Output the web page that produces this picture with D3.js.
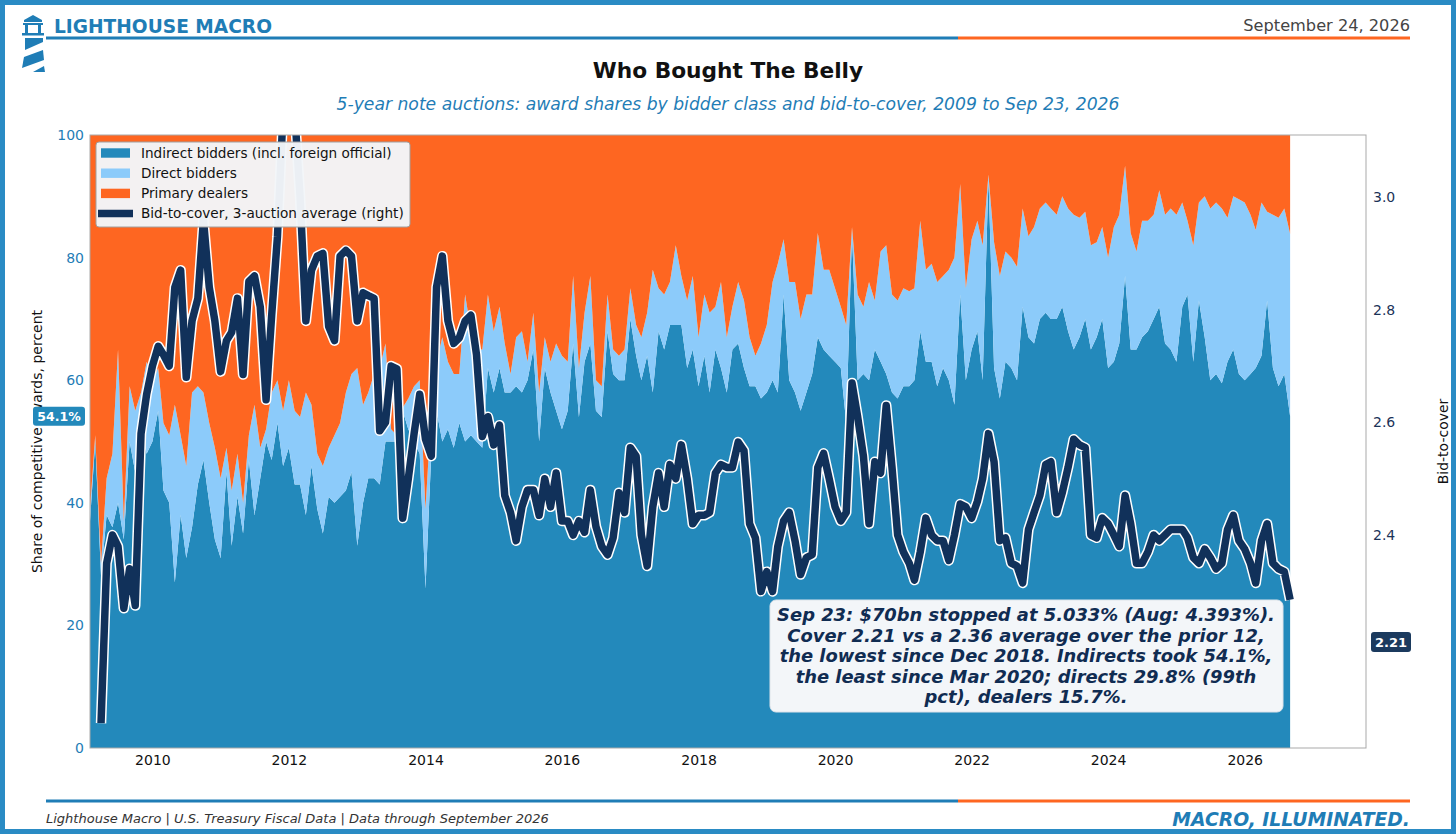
<!DOCTYPE html>
<html>
<head>
<meta charset="utf-8">
<script src="https://cdn.jsdelivr.net/npm/d3@7"></script>
<style>
  body { margin: 0; background: #fff; }
  svg { display: block; font-family: "DejaVu Sans", sans-serif; }
</style>
</head>
<body>
<svg id="chart" width="1456" height="834"></svg>
<script>
// Monthly 5-year note auctions, Feb 2009 to Sep 2026
const firstAuction = new Date(2009, 1, 1)
const lastAuction = new Date(2026, 8, 1)

// award share, percent of competitive awards
const indirectShare = [
  37, 50, 28, 38, 36, 40, 34, 50, 45, 52, 48,            // 2009 (Feb-Dec)
  50, 55, 42, 40, 27, 38, 31, 36, 43, 47, 40, 34,        // 2010
  31, 45, 33, 41, 35, 47, 38, 44, 50, 47, 53, 46,        // 2011
  49, 43, 43, 38, 46, 39, 35, 41, 40, 41, 42, 45,        // 2012
  33, 40, 44, 44, 43, 50, 50, 50, 55, 52, 50, 48,        // 2013
  26, 48, 55, 50, 52, 49, 53, 50, 51, 50, 49, 62,        // 2014
  58, 62, 58, 58, 59, 58, 60, 65, 50, 62, 58, 55,        // 2015
  52, 55, 66, 54, 63, 66, 55, 54, 68, 61, 60, 60,        // 2016
  70, 64, 60, 64, 58, 68, 65, 69, 69, 69, 62, 65,        // 2017
  59, 64, 58, 65, 62, 58, 65, 66, 62, 59, 59, 57,        // 2018
  58, 60, 58, 74, 60, 58, 55, 58, 61, 67, 65, 64,        // 2019
  63, 62, 53, 84, 60, 61, 60, 65, 63, 61, 58, 57,        // 2020
  59, 59, 60, 68, 63, 63, 59, 62, 60, 56, 74, 60,        // 2021
  65, 68, 60, 93, 62, 57, 63, 62, 60, 72, 67, 66,        // 2022
  70, 71, 70, 70, 72, 68, 65, 67, 70, 65, 67, 70,        // 2023
  62, 63, 66, 77, 65, 65, 67, 68, 70, 72, 66, 65,        // 2024
  63, 72, 74, 63, 73, 67, 60, 61, 59.5, 63, 65, 61,      // 2025
  60, 61, 62, 64, 73, 62, 59, 61, 54.1                   // 2026 (Jan-Sep)
]

const directShare = [
  2, 1, 2, 6, 12, 25, 3, 9, 10, 6, 15,
  10, 7, 11, 11, 29, 13, 15, 22, 16, 11, 13, 15,
  13, 4, 9, 7, 5, 4, 18, 5, 2, 11, 7, 9,
  11, 12, 11, 20, 10, 9, 11, 8, 11, 12, 16, 16,
  29, 16, 14, 17, 19, 16, 2, 1, 0.5, 5, 9, 12,
  13, 7, 8, 17, 11, 12, 8, 24, 17, 15, 16, 12,
  10, 10, 8, 3, 8, 10, 3, 6, 8, 5, 5, 11,
  12, 8, 11, 8, 8, 11, 5, 5, 6, 4, 4, 5,
  5, 5, 7, 7, 20, 7, 9, 7, 13, 8, 11, 12,
  8, 10, 13, 7, 14, 9, 7, 10, 11, 8, 5, 9,
  11, 16, 21, 9, 16, 18, 15, 16, 13, 17, 13, 14,
  12, 10, 16, 1, 14, 11, 16, 8, 18, 21, 16, 16,
  16, 15.5, 15, 18, 15, 16, 17, 15, 18, 24, 18, 15,
  18, 18, 22, 0.5, 20.5, 20, 18, 18, 18.5, 16, 16.5, 19,
  18, 18, 18, 17, 18, 20, 22, 19.5, 17.5, 17, 15.5, 15,
  18, 22, 21, 18, 19, 16, 19, 18, 17, 19, 21, 23,
  24, 17, 12, 19, 16, 23, 28, 28, 28.5, 23.5, 25, 28.5,
  29, 26, 22.5, 25, 14.5, 25, 27.5, 27, 29.8
]

// bid-to-cover, 3-auction average (first two auctions have no average)
const bidToCover3 = [
  null, null, 2.066, 2.35, 2.40, 2.38, 2.27, 2.34, 2.275, 2.58, 2.65,
  2.70, 2.735, 2.72, 2.70, 2.84, 2.87, 2.68, 2.78, 2.82, 2.96, 2.84, 2.78,
  2.69, 2.745, 2.76, 2.82, 2.685, 2.85, 2.86, 2.805, 2.64, 2.79, 2.93, 3.15,
  3.25, 3.15, 3.00, 2.78, 2.87, 2.895, 2.90, 2.77, 2.745, 2.895, 2.905, 2.895,
  2.78, 2.83, 2.825, 2.82, 2.585, 2.60, 2.70, 2.695, 2.43, 2.50, 2.58, 2.65,
  2.57, 2.54, 2.84, 2.895, 2.78, 2.74, 2.75, 2.78, 2.79, 2.72, 2.575, 2.61,
  2.56, 2.595, 2.47, 2.44, 2.39, 2.45, 2.48, 2.48, 2.435, 2.50, 2.45, 2.51,
  2.425, 2.425, 2.40, 2.425, 2.405, 2.48, 2.415, 2.38, 2.365, 2.395, 2.475, 2.44,
  2.555, 2.54, 2.40, 2.345, 2.45, 2.51, 2.45, 2.525, 2.50, 2.56, 2.50, 2.42,
  2.435, 2.435, 2.44, 2.51, 2.525, 2.52, 2.52, 2.565, 2.55, 2.42, 2.395, 2.30,
  2.335, 2.30, 2.38, 2.425, 2.44, 2.39, 2.33, 2.36, 2.365, 2.52, 2.545, 2.50,
  2.45, 2.425, 2.44, 2.67, 2.61, 2.54, 2.42, 2.53, 2.51, 2.63, 2.52, 2.40,
  2.37, 2.35, 2.32, 2.37, 2.43, 2.40, 2.39, 2.39, 2.355, 2.40, 2.455, 2.45,
  2.43, 2.46, 2.50, 2.58, 2.53, 2.39, 2.395, 2.35, 2.345, 2.315, 2.41, 2.44,
  2.47, 2.525, 2.53, 2.44, 2.475, 2.52, 2.57, 2.56, 2.555, 2.40, 2.395, 2.43,
  2.42, 2.40, 2.38, 2.47, 2.42, 2.35, 2.35, 2.37, 2.40, 2.39, 2.40, 2.41,
  2.41, 2.41, 2.395, 2.36, 2.35, 2.375, 2.36, 2.34, 2.35, 2.41, 2.435, 2.39,
  2.375, 2.35, 2.315, 2.39, 2.42, 2.35, 2.34, 2.335, 2.285
]

const latestCover = 2.21
const latestIndirect = 54.1

const seriesKeys = ["indirect", "direct", "dealers"]
const seriesLabels = ["Indirect bidders (incl. foreign official)", "Direct bidders", "Primary dealers"]
const lineLabel = "Bid-to-cover, 3-auction average (right)"
const leftTicks = [0, 20, 40, 60, 80, 100]
const rightTicks = [2.4, 2.6, 2.8, 3.0]
const tickYears = [2010, 2012, 2014, 2016, 2018, 2020, 2022, 2024, 2026]

const noteLines = [
  "Sep 23: $70bn stopped at 5.033% (Aug: 4.393%).",
  "Cover 2.21 vs a 2.36 average over the prior 12,",
  "the lowest since Dec 2018. Indirects took 54.1%,",
  "the least since Mar 2020; directs 29.8% (99th",
  "pct), dealers 15.7%."
]

const colors = {
  indirect: "#2389bb",
  direct: "#8ccbfa",
  dealers: "#fe6621",
  line: "#11315a",
  brand: "#1f7db6",
  orange: "#fe6621"
}

const plot = { left: 90, right: 1366, top: 135, bottom: 748 }

const svg = d3.select("#chart")

// frame
svg.append("rect")
    .attr("x", 2.5).attr("y", 2.5)
    .attr("width", 1451).attr("height", 829)
    .attr("fill", "#fff")
    .attr("stroke", "#2a8bc4")
    .attr("stroke-width", 5)

// header
const icon = svg.append("g").attr("fill", colors.brand)
icon.append("polygon").attr("points", "33,15 42,20 42,22 24,22 24,20")
icon.append("rect").attr("x", 23).attr("y", 23).attr("width", 20).attr("height", 2)
icon.append("rect").attr("x", 25).attr("y", 25).attr("width", 3).attr("height", 8)
icon.append("rect").attr("x", 38).attr("y", 25).attr("width", 3).attr("height", 8)
icon.append("rect").attr("x", 22).attr("y", 33).attr("width", 22).attr("height", 2.5)
icon.append("polygon").attr("points", "25,38 43,38 43,42 25,50")
icon.append("polygon").attr("points", "24,57 43,50 44,60 22,68")
icon.append("polygon").attr("points", "33,72 44,66 45,72")

svg.append("text")
    .attr("x", 54).attr("y", 33)
    .attr("font-size", 18.6).attr("font-weight", "bold")
    .attr("fill", colors.brand)
    .text("LIGHTHOUSE MACRO")

svg.append("text")
    .attr("x", 1410).attr("y", 31)
    .attr("text-anchor", "end")
    .attr("font-size", 16.2).attr("fill", "#444")
    .text("September 24, 2026")

const rule = (y) => {
    svg.append("line").attr("x1", 46).attr("x2", 958).attr("y1", y).attr("y2", y)
        .attr("stroke", colors.brand).attr("stroke-width", 3)
    svg.append("line").attr("x1", 958).attr("x2", 1410).attr("y1", y).attr("y2", y)
        .attr("stroke", colors.orange).attr("stroke-width", 3)
}
rule(38)
rule(801)

svg.append("text")
    .attr("x", 728).attr("y", 78)
    .attr("text-anchor", "middle")
    .attr("font-size", 21.7).attr("font-weight", "bold").attr("fill", "#111")
    .text("Who Bought The Belly")

svg.append("text")
    .attr("x", 728).attr("y", 110)
    .attr("text-anchor", "middle")
    .attr("font-size", 17.2).attr("font-style", "italic").attr("fill", colors.brand)
    .text("5-year note auctions: award shares by bidder class and bid-to-cover, 2009 to Sep 23, 2026")

// data
const auctionMonths = d3.timeMonth.range(firstAuction, d3.timeMonth.offset(lastAuction, 1))
const rows = auctionMonths.map((d, i) => ({
    date: d,
    indirect: indirectShare[i],
    direct: directShare[i],
    dealers: Math.max(0, 100 - indirectShare[i] - directShare[i]),
    cover: bidToCover3[i]
}))

// scales
const xScale = d3.scaleTime()
    .domain([firstAuction, new Date(2027, 9, 12)])
    .range([plot.left, plot.right])

const yScale = d3.scaleLinear()
    .domain([0, 100])
    .range([plot.bottom, plot.top])

const y2Scale = d3.scaleLinear()
    .domain([2.022, 3.110])
    .range([plot.bottom, plot.top])

svg.append("defs").append("clipPath").attr("id", "plot-clip")
    .append("rect")
    .attr("x", plot.left).attr("y", plot.top)
    .attr("width", plot.right - plot.left).attr("height", plot.bottom - plot.top)

// stacked areas
const stacked = d3.stack().keys(seriesKeys)(rows)
const area = d3.area()
    .x(d => xScale(d.data.date))
    .y0(d => yScale(d[0]))
    .y1(d => yScale(d[1]))

const areas = svg.append("g").attr("clip-path", "url(#plot-clip)")
areas.selectAll("path")
    .data(stacked)
    .enter()
    .append("path")
        .attr("d", area)
        .attr("fill", d => colors[d.key])

// bid-to-cover line with white halo
const line = d3.line()
    .defined(d => d.cover != null)
    .x(d => xScale(d.date))
    .y(d => y2Scale(d.cover))

const lineGroup = svg.append("g").attr("clip-path", "url(#plot-clip)")
lineGroup.append("path")
    .attr("d", line(rows))
    .attr("fill", "none")
    .attr("stroke", "#fff")
    .attr("stroke-width", 10.5)
    .attr("stroke-linejoin", "round")
lineGroup.append("path")
    .attr("d", line(rows))
    .attr("fill", "none")
    .attr("stroke", colors.line)
    .attr("stroke-width", 7.5)
    .attr("stroke-linejoin", "round")

// plot frame
svg.append("rect")
    .attr("x", plot.left).attr("y", plot.top)
    .attr("width", plot.right - plot.left).attr("height", plot.bottom - plot.top)
    .attr("fill", "none")
    .attr("stroke", "#a9a9a9")
    .attr("stroke-width", 1)

// axes
const xAxis = svg.append("g")
    .attr("transform", `translate(0, ${plot.bottom})`)
    .call(d3.axisBottom(xScale)
        .tickValues(tickYears.map(y => new Date(y, 0, 1)))
        .tickFormat(d3.timeFormat("%Y"))
        .tickSize(0)
        .tickPadding(7))
xAxis.select(".domain").remove()
xAxis.selectAll("text")
    .attr("font-size", 14).attr("font-family", "DejaVu Sans").attr("fill", "#111")

const yAxis = svg.append("g")
    .attr("transform", `translate(${plot.left}, 0)`)
    .call(d3.axisLeft(yScale).tickValues(leftTicks).tickSize(0).tickPadding(6))
yAxis.select(".domain").remove()
yAxis.selectAll("text")
    .attr("font-size", 14).attr("font-family", "DejaVu Sans").attr("fill", colors.brand)

const y2Axis = svg.append("g")
    .attr("transform", `translate(${plot.right}, 0)`)
    .call(d3.axisRight(y2Scale).tickValues(rightTicks).tickFormat(d3.format(".1f")).tickSize(0).tickPadding(7))
y2Axis.select(".domain").remove()
y2Axis.selectAll("text")
    .attr("font-size", 14).attr("font-family", "DejaVu Sans").attr("fill", "#1b3358")

svg.append("text")
    .attr("transform", `translate(42, ${(plot.top + plot.bottom) / 2}) rotate(-90)`)
    .attr("text-anchor", "middle")
    .attr("font-size", 14).attr("fill", "#111")
    .text("Share of competitive awards, percent")

svg.append("text")
    .attr("transform", `translate(1448, ${(plot.top + plot.bottom) / 2}) rotate(-90)`)
    .attr("text-anchor", "middle")
    .attr("font-size", 14).attr("fill", "#111")
    .text("Bid-to-cover")

// latest value tags
const leftTag = svg.append("g")
    .attr("transform", `translate(59, ${yScale(latestIndirect)})`)
leftTag.append("rect")
    .attr("x", -26).attr("y", -9.5).attr("width", 52).attr("height", 19).attr("rx", 3)
    .attr("fill", colors.indirect)
leftTag.append("text")
    .attr("text-anchor", "middle").attr("dy", "0.35em")
    .attr("font-size", 12.5).attr("font-weight", "bold").attr("fill", "#fff")
    .text(latestIndirect.toFixed(1) + "%")

const rightTag = svg.append("g")
    .attr("transform", `translate(1391, ${y2Scale(latestCover)})`)
rightTag.append("rect")
    .attr("x", -20).attr("y", -10).attr("width", 40).attr("height", 20).attr("rx", 3)
    .attr("fill", "#1b3a5e")
rightTag.append("text")
    .attr("text-anchor", "middle").attr("dy", "0.35em")
    .attr("font-size", 13).attr("font-weight", "bold").attr("fill", "#fff")
    .text(latestCover.toFixed(2))

// legend
const legend = svg.append("g")
legend.append("rect")
    .attr("x", 96).attr("y", 142).attr("width", 314).attr("height", 85).attr("rx", 3)
    .attr("fill", "#f3f6f9").attr("fill-opacity", 0.97)
    .attr("stroke", "#a0a0a0").attr("stroke-width", 1)

seriesLabels.forEach((label, i) => {
    const cy = 153 + i * 20.2
    legend.append("rect")
        .attr("x", 101).attr("y", cy - 4.7).attr("width", 29).attr("height", 9.4)
        .attr("fill", colors[seriesKeys[i]])
    legend.append("text")
        .attr("x", 141).attr("y", cy).attr("dy", "0.35em")
        .attr("font-size", 13.6).attr("fill", "#111")
        .text(label)
})
legend.append("line")
    .attr("x1", 98).attr("x2", 133).attr("y1", 213.5).attr("y2", 213.5)
    .attr("stroke", colors.line).attr("stroke-width", 7.5)
legend.append("text")
    .attr("x", 141).attr("y", 213.5).attr("dy", "0.35em")
    .attr("font-size", 13.6).attr("fill", "#111")
    .text(lineLabel)

// annotation
const note = svg.append("g")
note.append("rect")
    .attr("x", 770).attr("y", 600).attr("width", 513).attr("height", 112).attr("rx", 6)
    .attr("fill", "#f3f6f9").attr("stroke", "#dde3ea").attr("stroke-width", 1)
note.selectAll("text")
    .data(noteLines)
    .enter()
    .append("text")
        .attr("x", 1026)
        .attr("y", (d, i) => 621 + i * 20.5)
        .attr("text-anchor", "middle")
        .attr("font-size", 17.9).attr("font-weight", "bold").attr("font-style", "italic")
        .attr("fill", "#102c52")
        .text(d => d)

// footer
svg.append("text")
    .attr("x", 46).attr("y", 823)
    .attr("font-size", 13).attr("font-style", "italic").attr("fill", "#333")
    .text("Lighthouse Macro | U.S. Treasury Fiscal Data | Data through September 2026")

svg.append("text")
    .attr("x", 1410).attr("y", 826)
    .attr("text-anchor", "end")
    .attr("font-size", 18.8).attr("font-weight", "bold").attr("font-style", "italic")
    .attr("fill", colors.brand)
    .text("MACRO, ILLUMINATED.")
</script>
</body>
</html>
